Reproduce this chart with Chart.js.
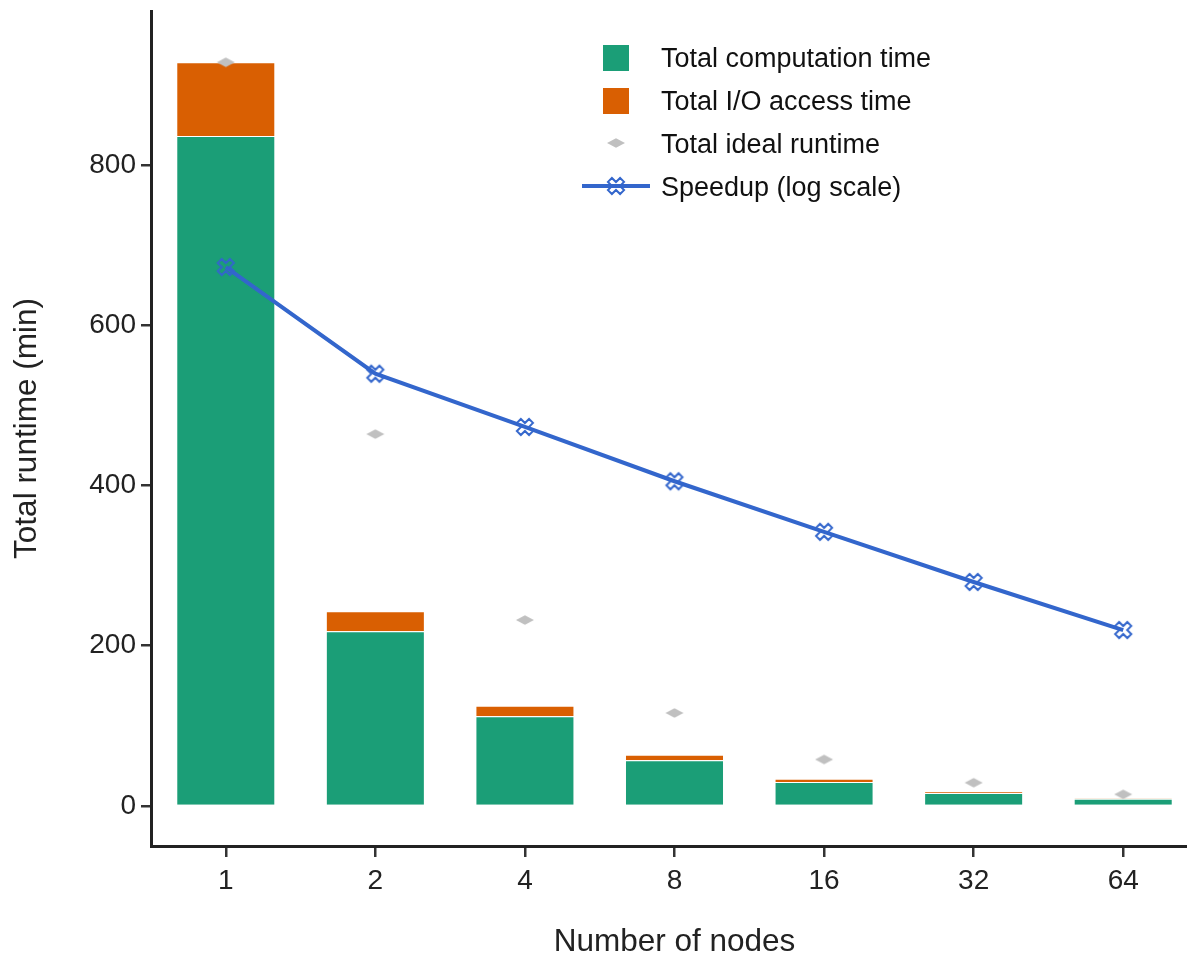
<!DOCTYPE html>
<html>
<head>
<meta charset="utf-8">
<script src="https://cdn.jsdelivr.net/npm/chart.js@4.4.1/dist/chart.umd.min.js"></script>
<style>
  html, body { margin: 0; padding: 0; background: #fff; overflow: hidden; }
  #wrap { position: relative; width: 1200px; height: 958px; }
</style>
</head>
<body>
<div id="wrap"><canvas id="chart" width="1200" height="958"></canvas></div>
<script>
// values
const nodes = ['1', '2', '4', '8', '16', '32', '64'];
const computeTime = [836, 218, 112, 57, 30, 16, 9];
const ioTime = [92, 25, 13, 7, 4, 2, 0.5];
const idealTime = [928, 464, 232, 116, 58, 29, 14.5];
const speedup = [1, 3.8, 7.4, 14.6, 27.5, 51.5, 94];
const yTicks = [0, 200, 400, 600, 800];

const GREEN = '#1b9e77';
const ORANGE = '#d95f02';
const GREY = '#c0c0c0';
const BLUE = '#3366cc';
const INK = '#222222';
const FONT = '"Liberation Sans", Arial, sans-serif';

// flat grey diamond marker
function diamondMarker() {
    const c = document.createElement('canvas');
    c.width = 20; c.height = 12;
    const g = c.getContext('2d');
    g.fillStyle = GREY;
    g.beginPath();
    g.moveTo(1, 6); g.lineTo(10, 1.2); g.lineTo(19, 6); g.lineTo(10, 10.8);
    g.closePath();
    g.fill();
    return c;
}

// hollow "X" marker (outlined rotated plus)
function crossMarker() {
    const c = document.createElement('canvas');
    c.width = 22; c.height = 22;
    const g = c.getContext('2d');
    const t = 2.8, a = 8.6;
    const pts = [[t,-a],[t,-t],[a,-t],[a,t],[t,t],[t,a],[-t,a],[-t,t],[-a,t],[-a,-t],[-t,-t],[-t,-a]];
    const r = Math.SQRT1_2;
    g.strokeStyle = BLUE;
    g.lineWidth = 2;
    g.beginPath();
    pts.forEach(([x, y], i) => {
        const px = 11 + (x - y) * r, py = 11 + (x + y) * r;
        if (i === 0) g.moveTo(px, py); else g.lineTo(px, py);
    });
    g.closePath();
    g.stroke();
    return c;
}

const diamond = diamondMarker();
const cross = crossMarker();

// legend drawn inside the plot
const legendPlugin = {
    id: 'innerLegend',
    afterDraw(chart) {
        const ctx = chart.ctx;
        ctx.save();
        ctx.textBaseline = 'middle';
        ctx.textAlign = 'left';
        const tx = 661;
        const rows = [
            { y: 60, label: 'Total computation time' },
            { y: 103, label: 'Total I/O access time' },
            { y: 146, label: 'Total ideal runtime' },
            { y: 189, label: 'Speedup (log scale)' }
        ];
        // swatches
        ctx.fillStyle = GREEN;
        ctx.fillRect(603, 45, 26, 26);
        ctx.fillStyle = ORANGE;
        ctx.fillRect(603, 88, 26, 26);
        ctx.drawImage(diamond, 616 - 10, 143 - 6);
        ctx.strokeStyle = BLUE;
        ctx.lineWidth = 4;
        ctx.beginPath();
        ctx.moveTo(582, 186); ctx.lineTo(650, 186);
        ctx.stroke();
        ctx.drawImage(cross, 616 - 11, 186 - 11);
        ctx.font = '27px ' + FONT;
        ctx.fillStyle = '#111';
        rows.forEach(r => ctx.fillText(r.label, tx, r.y));
        ctx.restore();
    }
};

new Chart(document.getElementById('chart'), {
    data: {
        labels: nodes,
        datasets: [
            {
                type: 'line',
                label: 'Speedup (log scale)',
                data: speedup,
                yAxisID: 'y2',
                borderColor: BLUE,
                borderWidth: 4,
                pointStyle: cross,
                pointRadius: 8,
                tension: 0,
                order: 0
            },
            {
                type: 'line',
                label: 'Total ideal runtime',
                data: idealTime,
                yAxisID: 'y',
                stack: 'ideal',
                showLine: false,
                pointStyle: diamond,
                pointRadius: 8,
                order: 1
            },
            {
                type: 'bar',
                label: 'Total computation time',
                data: computeTime,
                yAxisID: 'y',
                stack: 'runtime',
                backgroundColor: GREEN,
                borderColor: '#ffffff',
                borderWidth: 1,
                barPercentage: 0.662,
                categoryPercentage: 1,
                order: 2
            },
            {
                type: 'bar',
                label: 'Total I/O access time',
                data: ioTime,
                yAxisID: 'y',
                stack: 'runtime',
                backgroundColor: ORANGE,
                borderColor: '#ffffff',
                borderWidth: 1,
                barPercentage: 0.662,
                categoryPercentage: 1,
                order: 2
            }
        ]
    },
    options: {
        responsive: false,
        animation: false,
        layout: { autoPadding: false, padding: { top: 11, right: 2, left: 0, bottom: 0 } },
        plugins: {
            legend: { display: false },
            tooltip: { enabled: false }
        },
        scales: {
            x: {
                stacked: true,
                offset: true,
                grid: { display: true, drawOnChartArea: false, drawTicks: true, tickLength: 11, color: '#333', lineWidth: 2.5, offset: false },
                border: { display: true, color: INK, width: 3 },
                ticks: { color: INK, font: { family: FONT, size: 28 }, padding: 7 },
                title: { display: true, text: 'Number of nodes', color: INK, font: { family: FONT, size: 31.5, lineHeight: 1 }, padding: { top: 0, bottom: 0 } },
                afterFit(scale) {
                    scale.height = 112;
                    scale.paddingLeft = 0;
                    scale.paddingRight = 0;
                }
            },
            y: {
                stacked: true,
                min: -50,
                max: 992,
                grid: { display: true, drawOnChartArea: false, drawTicks: true, tickLength: 10, color: '#333', lineWidth: 2.5 },
                border: { display: true, color: INK, width: 3 },
                afterBuildTicks(scale) { scale.ticks = yTicks.map(v => ({ value: v })); },
                ticks: { color: INK, font: { family: FONT, size: 28 }, padding: 5 },
                title: { display: true, text: 'Total runtime (min)', color: INK, font: { family: FONT, size: 31.5, lineHeight: 1 }, padding: { top: 12, bottom: 0 } },
                afterFit(scale) {
                    scale.width = 151;
                    scale.paddingTop = 0;
                    scale.paddingBottom = 0;
                }
            },
            y2: {
                type: 'logarithmic',
                display: false,
                reverse: true,
                min: 0.0406,
                max: 1402
            }
        }
    },
    plugins: [legendPlugin]
});
</script>
</body>
</html>
